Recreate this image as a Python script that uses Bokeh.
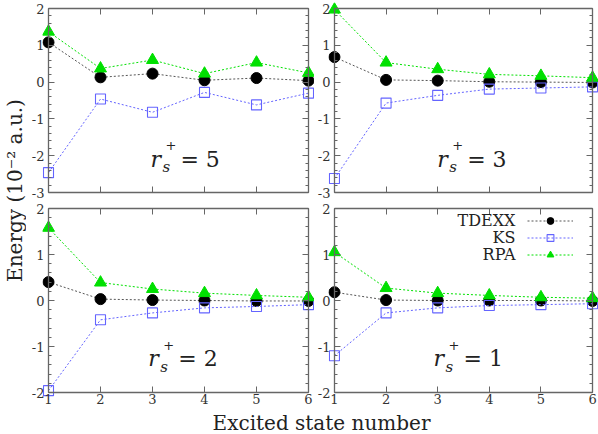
import math
from bokeh.plotting import figure
from bokeh.models import (Range1d, LinearAxis, FixedTicker, Label, Legend,
                          LegendItem, ColumnDataSource)
from bokeh.layouts import row, column
from bokeh.embed import file_html
from bokeh.resources import INLINE

# ---------------- data ----------------
states = [1, 2, 3, 4, 5, 6]
y_ticks_top = [-3, -2, -1, 0, 1, 2]
y_ticks_bottom = [-2, -1, 0, 1, 2]
y_minor_top = [round(-3 + 0.2 * i, 1) for i in range(26)]
y_minor_bottom = [round(-2 + 0.2 * i, 1) for i in range(21)]

tdexx_rs5 = [1.08, 0.13, 0.23, 0.05, 0.11, 0.04]
ks_rs5 = [-2.46, -0.46, -0.82, -0.28, -0.62, -0.30]
rpa_rs5 = [1.37, 0.37, 0.60, 0.23, 0.53, 0.25]

tdexx_rs3 = [0.68, 0.06, 0.04, 0.01, 0.00, -0.01]
ks_rs3 = [-2.62, -0.57, -0.36, -0.19, -0.16, -0.13]
rpa_rs3 = [1.97, 0.53, 0.35, 0.21, 0.17, 0.12]

tdexx_rs2 = [0.40, 0.03, 0.01, 0.00, -0.01, -0.01]
ks_rs2 = [-1.96, -0.42, -0.27, -0.16, -0.13, -0.09]
rpa_rs2 = [1.58, 0.39, 0.25, 0.16, 0.11, 0.07]

tdexx_rs1 = [0.18, 0.01, 0.00, 0.00, 0.00, -0.01]
ks_rs1 = [-1.20, -0.27, -0.16, -0.11, -0.09, -0.07]
rpa_rs1 = [1.05, 0.27, 0.16, 0.11, 0.07, 0.05]

series_names = ["TDEXX", "KS", "RPA"]
panel_labels = ["5", "3", "2", "1"]
x_title = "Excited state number"
y_title = "Energy (10\u207b\u00b2 a.u.)"

# ---------------- style ----------------
FONT = "DejaVu Serif"
AX_COL = "#666666"
TXT_COL = "#333333"
C_TDEXX = "#000000"
C_TDEXX_LINE = "#555555"
C_KS = "#6464ff"
C_RPA = "#00e000"

PX = 6                 # horizontal padding between frame and drawn box
YW = 26                # width of y-title strip
XH = 24                # height of x-title strip
TICK_FONT = "13px"


def make_panel(tdexx, ks, rpa, ylo, yhi, yticks, yminor, show_xlabels,
               fw, fh, pt, pb, mbl, mbr, mbt, mbb, rs_text, rs_x, rs_y,
               legend=False):
    bw = fw - 2 * PX
    bh = fh - pt - pb
    dx = PX * (states[-1] - states[0]) / bw
    upp = (yhi - ylo) / bh
    p = figure(width=mbl + fw + mbr, height=mbt + fh + mbb,
               x_range=Range1d(states[0] - dx, states[-1] + dx),
               y_range=Range1d(ylo - pb * upp, yhi + pt * upp), title=None,
               output_backend="svg", toolbar_location=None,
               x_axis_location=None, y_axis_location=None,
               min_border_left=mbl, min_border_right=mbr,
               min_border_top=mbt, min_border_bottom=mbb)
    p.outline_line_color = None
    p.background_fill_color = "white"
    p.border_fill_color = "white"
    p.grid.visible = False

    def frame_axis(ax):
        ax.axis_line_color = AX_COL
        ax.axis_line_width = 1.3
        ax.major_tick_line_color = AX_COL
        ax.minor_tick_line_color = AX_COL
        ax.major_tick_in = 6
        ax.major_tick_out = 0
        ax.minor_tick_in = 3
        ax.minor_tick_out = 0
        ax.major_label_text_color = None

    def label_axis(ax, standoff, ticks):
        ax.axis_line_color = None
        ax.major_tick_line_color = None
        ax.minor_tick_line_color = None
        ax.major_tick_in = 0
        ax.major_tick_out = 0
        ax.minor_tick_in = 0
        ax.minor_tick_out = 0
        ax.major_label_text_font = FONT
        ax.major_label_text_font_size = TICK_FONT
        ax.major_label_text_color = TXT_COL
        ax.major_label_standoff = standoff
        ax.major_label_overrides = {t: str(t) for t in ticks}

    xt = FixedTicker(ticks=states, minor_ticks=[])
    yt = FixedTicker(ticks=yticks, minor_ticks=yminor)
    xb = (states[0], states[-1])
    yb = (ylo, yhi)
    for loc, fixed, tick, bnd in (("below", ylo, xt, xb), ("above", yhi, xt, xb),
                                  ("left", states[0], yt, yb),
                                  ("right", states[-1], yt, yb)):
        ax = LinearAxis(ticker=tick, fixed_location=fixed, bounds=bnd)
        frame_axis(ax)
        p.add_layout(ax, loc)

    ylab = LinearAxis(ticker=FixedTicker(ticks=yticks, minor_ticks=[]))
    label_axis(ylab, -PX + 4, yticks)
    p.add_layout(ylab, "left")
    if show_xlabels:
        xlab = LinearAxis(ticker=FixedTicker(ticks=states, minor_ticks=[]))
        label_axis(xlab, -pb + 1, states)
        p.add_layout(xlab, "below")

    src = ColumnDataSource(dict(x=states, tdexx=tdexx, ks=ks, rpa=rpa))
    l1 = p.line("x", "tdexx", source=src, line_color=C_TDEXX_LINE,
                line_dash="2 2", line_width=1)
    s1 = p.scatter("x", "tdexx", source=src, marker="circle", size=11,
                   fill_color=C_TDEXX, line_color=C_TDEXX)
    l2 = p.line("x", "ks", source=src, line_color=C_KS, line_dash="2 2",
                line_width=1)
    s2 = p.scatter("x", "ks", source=src, marker="square", size=10,
                   fill_color=None, line_color=C_KS, line_width=1.1)
    l3 = p.line("x", "rpa", source=src, line_color=C_RPA, line_dash="2 2",
                line_width=1)
    s3 = p.scatter("x", "rpa", source=src, marker="triangle", size=12,
                   fill_color=C_RPA, line_color=C_RPA)

    # r_s^+ = n label (y is the vertical centre of the main text)
    common = dict(x=rs_x, y=rs_y, text_font=FONT, text_color="#222222",
                  text_baseline="middle")
    p.add_layout(Label(text="r", text_font_size="22px",
                       text_font_style="italic", **common))
    p.add_layout(Label(text="s", text_font_size="15px", x_offset=12,
                       y_offset=-8, text_font_style="italic", **common))
    p.add_layout(Label(text="+", text_font_size="13px", x_offset=15,
                       y_offset=14, **common))
    p.add_layout(Label(text="= " + rs_text, text_font_size="22px",
                       x_offset=30, **common))

    if legend:
        rh = 17
        lx, ltop = 199, 5.5       # glyph start, legend top below frame top
        items = [LegendItem(label=" ", renderers=[l1, s1]),
                 LegendItem(label=" ", renderers=[l2, s2]),
                 LegendItem(label=" ", renderers=[l3, s3])]
        lg = Legend(items=items,
                    location=(lx, fh - ltop - 3 * rh),
                    glyph_width=46, glyph_height=rh, label_width=0,
                    label_height=rh, label_standoff=0, padding=0,
                    margin=0, spacing=0, background_fill_alpha=0,
                    border_line_alpha=0, label_text_font_size="1px")
        p.add_layout(lg)
        for i, name in enumerate(series_names):
            p.add_layout(Label(text=name, x=lx - 12,
                               y=fh - ltop - rh * (i + 0.5),
                               x_units="screen", y_units="screen",
                               text_align="right", text_baseline="middle",
                               text_font=FONT, text_font_size="16px",
                               text_color="#222222"))
    return p


# top row: canvas 0-200, box 8-192 ; bottom row: canvas 200-410, box 208-392
tl = make_panel(tdexx_rs5, ks_rs5, rpa_rs5, -3, 2, y_ticks_top, y_minor_top,
                False, 272, 192, 6, 2, 16, 0, 2, 6, panel_labels[0], 2.96, -2.09)
tr = make_panel(tdexx_rs3, ks_rs3, rpa_rs3, -3, 2, y_ticks_top, y_minor_top,
                False, 272, 192, 6, 2, 12, 0, 2, 6, panel_labels[1], 2.99, -2.09)
bl = make_panel(tdexx_rs2, ks_rs2, rpa_rs2, -2, 2, y_ticks_bottom, y_minor_bottom,
                True, 272, 192, 2, 6, 16, 0, 6, 12, panel_labels[2], 2.92, -1.27)
br = make_panel(tdexx_rs1, ks_rs1, rpa_rs1, -2, 2, y_ticks_bottom, y_minor_bottom,
                True, 272, 192, 2, 6, 12, 0, 6, 12, panel_labels[3], 2.92, -1.27,
                legend=True)

grid_w = tl.width + tr.width
total_h = tl.height + bl.height + XH

# x title strip
xf = figure(width=grid_w, height=XH, x_range=Range1d(0, grid_w),
            y_range=Range1d(0, XH), output_backend="svg", toolbar_location=None,
            x_axis_location=None, y_axis_location=None, min_border=0,
            title=None)
xf.outline_line_color = None
xf.grid.visible = False
xf.add_layout(Label(x=295, y=XH / 2, text=x_title, text_font=FONT,
                    text_font_size="20px", text_align="center",
                    text_baseline="middle", text_color="#222222"))

# y title strip
yf = figure(width=YW, height=total_h, x_range=Range1d(0, YW),
            y_range=Range1d(0, total_h), output_backend="svg",
            toolbar_location=None, x_axis_location=None,
            y_axis_location=None, min_border=0, title=None)
yf.outline_line_color = None
yf.grid.visible = False
yf.add_layout(Label(x=14, y=total_h - 190, text=y_title, angle=math.pi / 2,
                    text_font=FONT, text_font_size="20px",
                    text_align="center", text_baseline="middle",
                    text_color="#222222"))

layout = row(yf, column(row(tl, tr), row(bl, br), xf))

open("out.html", "w").write(file_html(layout, INLINE))
